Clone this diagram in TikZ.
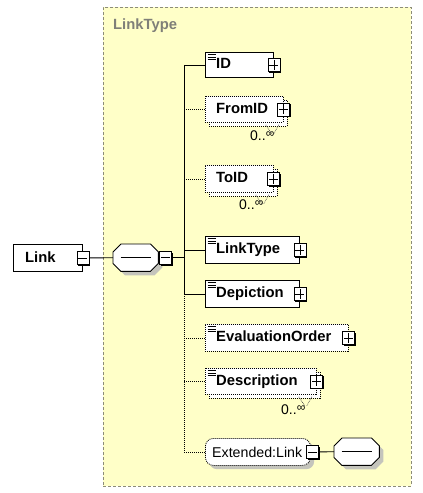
\documentclass[tikz,border=0pt]{standalone}
\usepackage{fontspec}
\setmainfont{Liberation Sans}
\definecolor{bgyellow}{HTML}{FFFFC8}
\definecolor{frameg}{HTML}{8C8C78}
\definecolor{titleg}{HTML}{7F7F78}
\definecolor{shadg}{HTML}{C4C4BC}
\newcommand{\bfnt}{\fontsize{14.8}{16}\selectfont\bfseries}
\newcommand{\rfnt}{\fontsize{14.2}{16}\selectfont}
% octagon outline round a named node: #1 node, #2 path options, #3 cut
\newcommand{\octo}[3]{%
  \path[#2] ([xshift=#3]#1.north west) -- ([xshift=-#3]#1.north east) -- ([yshift=-#3]#1.north east)
    -- ([yshift=#3]#1.south east) -- ([xshift=-#3]#1.south east) -- ([xshift=#3]#1.south west)
    -- ([yshift=#3]#1.south west) -- ([yshift=-#3]#1.north west) -- cycle;}
% plus / minus box with its shadow: #1 name, #2 place, #3 style
\newcommand{\pmb}[3]{%
  \node[pmshadow] (#1s) at ([shift={(1.5,1.5)}]#2) {};
  \node[#3] (#1) at (#2) {};}
\begin{document}
\begin{tikzpicture}[x=1pt,y=-1pt,
  boxbase/.style={fill=white, line width=0.9pt, anchor=north west, inner sep=0pt, minimum height=#1},
  elem/.style={boxbase=#1, draw},
  optelem/.style={boxbase=#1, draw, dash pattern=on 1pt off 1pt, line width=0.8pt},
  etext/.style={anchor=west, inner sep=0pt, text height=10.6pt, text depth=0pt, font=\bfnt},
  rtext/.style={anchor=west, inner sep=0pt, text height=10.2pt, text depth=0pt, font=\rfnt},
  pmshadow/.style={fill=black, minimum width=12pt, minimum height=13pt, inner sep=0pt},
  pmbox/.style={draw, fill=white, line width=0.8pt, minimum width=12pt, minimum height=13pt, inner sep=0pt},
  plusbox/.style={pmbox, path picture={
    \draw[line width=0.8pt] ([yshift=-1.5pt]path picture bounding box.north) -- ([yshift=1.5pt]path picture bounding box.south);
    \draw[line width=0.8pt] ([xshift=1.5pt]path picture bounding box.west) -- ([xshift=-1.5pt]path picture bounding box.east);}},
  minusbox/.style={pmbox, path picture={
    \draw[line width=0.8pt] ([xshift=1.5pt]path picture bounding box.west) -- ([xshift=-1.5pt]path picture bounding box.east);}},
  seqbox/.style={minimum width=45pt, minimum height=27pt, inner sep=0pt, anchor=north west},
  octline/.style={draw, fill=white, line width=0.9pt},
  octshadow/.style={fill=shadg, transform canvas={shift={(4pt,-4pt)}}},
  conn/.style={line width=0.9pt},
  optconn/.style={line width=0.8pt, dash pattern=on 1pt off 1pt},
  vdots/.style={line width=0.6pt, dash pattern=on 0.8pt off 0.8pt, black!70},
  mult/.style={anchor=north west, inner sep=0pt, font=\fontsize{14}{16}\selectfont},
  docicon/.style={line width=0.6pt}
]
\useasboundingbox (0,0) rectangle (423,493);

% complex type frame
\node[draw=frameg, fill=bgyellow, dash pattern=on 3pt off 2pt, line width=0.6pt, anchor=north west,
  minimum width=308pt, minimum height=479pt, inner sep=0pt] (frame) at (103,7) {};
\node[anchor=base west, inner sep=0pt, text=titleg, font=\bfnt] (ftitle) at (113,29) {LinkType};

% trunk reference
\coordinate (trunk) at (184,0);

% Link element
\node[elem=27pt, minimum width=69pt] (link) at (13,244) {};
\node[etext] (linkt) at ([shift={(12,-1)}]link.west) {Link};
\pmb{linkm}{link.east}{minusbox}

% sequence compositor
\node[seqbox] (seq) at (113,244) {};
\octo{seq}{octshadow}{8pt}
\octo{seq}{octline}{8pt}
\coordinate (seqa) at ([xshift=-15pt]seq.center);
\coordinate (seqb) at ([xshift=15pt]seq.center);
\draw[line width=0.8pt] (seqa) -- (seqb);
\coordinate (seqmc) at ([xshift=7pt]seq.east);
\pmb{seqm}{seqmc}{minusbox}
\draw[conn] (linkm.east) -- (seq.west);

% ID
\node[elem=25pt, minimum width=68pt] (id) at (205,52) {};
\node[etext] (idt) at ([shift={(11,-1.5)}]id.west) {ID};
\pmb{idp}{id.east}{plusbox}

% FromID (multiple)
\node[optelem=26pt, minimum width=78pt] (fromb) at (209,100) {};
\node[optelem=26pt, minimum width=78pt] (from) at (205,96) {};
\node[etext] (fromt) at ([shift={(11,-1.5)}]from.west) {FromID};
\pmb{fromp}{from.east}{plusbox}
\node[mult] (fromm) at (250,131) {0..\raisebox{3pt}{\fontsize{12}{12}\selectfont ∞}};

% ToID (multiple)
\node[optelem=27pt, minimum width=68pt] (tob) at (209,169) {};
\node[optelem=27pt, minimum width=68pt] (to) at (205,165) {};
\node[etext] (tot) at ([shift={(11,-1.5)}]to.west) {ToID};
\pmb{top}{to.east}{plusbox}
\node[mult] (tom) at (239,200) {0..\raisebox{3pt}{\fontsize{12}{12}\selectfont ∞}};

% LinkType
\node[elem=27pt, minimum width=94pt] (lt) at (205,236) {};
\node[etext] (ltt) at ([shift={(11,-1.5)}]lt.west) {LinkType};
\pmb{ltp}{lt.east}{plusbox}

% Depiction
\node[elem=27pt, minimum width=94pt] (dep) at (205,280) {};
\node[etext] (dept) at ([shift={(11,-1.5)}]dep.west) {Depiction};
\pmb{depp}{dep.east}{plusbox}

% EvaluationOrder
\node[optelem=27pt, minimum width=143pt] (eo) at (205,324) {};
\node[etext] (eot) at ([shift={(11,-1.5)}]eo.west) {EvaluationOrder};
\pmb{eop}{eo.east}{plusbox}

% Description (multiple)
\node[optelem=26pt, minimum width=111pt] (descb) at (209,372) {};
\node[optelem=26pt, minimum width=111pt] (desc) at (205,368) {};
\node[etext] (desct) at ([shift={(11,-1.5)}]desc.west) {Description};
\pmb{descp}{desc.east}{plusbox}
\node[mult] (descm) at (281,405) {0..\raisebox{3pt}{\fontsize{12}{12}\selectfont ∞}};

% Extended:Link group
\node[fill=shadg, rounded corners=8pt, anchor=north west,
  minimum width=105pt, minimum height=27pt, inner sep=0pt] (exts) at (209,442) {};
\node[fill=white, draw, dash pattern=on 1pt off 1pt, line width=0.8pt, rounded corners=8pt, anchor=north west,
  minimum width=105pt, minimum height=27pt, inner sep=0pt] (ext) at (205,438) {};
\node[rtext] (extt) at ([shift={(7,0)}]ext.west) {Extended:Link};
\coordinate (extmc) at ([xshift=2pt]ext.east);
\pmb{extm}{extmc}{minusbox}
\node[seqbox] (seq2) at (334,438) {};
\octo{seq2}{octshadow}{8pt}
\octo{seq2}{octline}{8pt}
\coordinate (seq2a) at ([xshift=-15pt]seq2.center);
\coordinate (seq2b) at ([xshift=15pt]seq2.center);
\draw[line width=0.8pt] (seq2a) -- (seq2b);
\draw[conn] (extm.east) -- (seq2.west);

% doc icons
\foreach \n in {id,lt,dep,eo,desc}{
  \draw[docicon] ([shift={(2.5,2.5)}]\n.north west) -- ++(8,0);
  \draw[docicon] ([shift={(2.5,5)}]\n.north west) -- ++(8,0);
  \draw[docicon] ([shift={(2.5,7.5)}]\n.north west) -- ++(8,0);
}

% multiplicity marks
\draw[vdots] ([shift={(-22,-2)}]fromb.south east) -- ([shift={(-16,7)}]fromb.south east);
\draw[vdots] ([shift={(-9,-2)}]fromb.south east) -- ([shift={(-14,7)}]fromb.south east);
\draw[vdots] ([shift={(-22,-2)}]tob.south east) -- ([shift={(-16,7)}]tob.south east);
\draw[vdots] ([shift={(-9,-2)}]tob.south east) -- ([shift={(-14,7)}]tob.south east);
\draw[vdots] ([shift={(-22,-2)}]descb.south east) -- ([shift={(-16,7)}]descb.south east);
\draw[vdots] ([shift={(-9,-2)}]descb.south east) -- ([shift={(-14,7)}]descb.south east);

% trunk and connectors
\draw[conn] (seqm.east) -- (seqm.east -| trunk);
\draw[conn] (id.west -| trunk) -- (dep.west -| trunk);
\draw[optconn] (dep.west -| trunk) -- (ext.west -| trunk);
\draw[conn] (id.west -| trunk) -- (id.west);
\draw[optconn] (from.west -| trunk) -- (from.west);
\draw[optconn] (to.west -| trunk) -- (to.west);
\draw[conn] (lt.west -| trunk) -- (lt.west);
\draw[conn] (dep.west -| trunk) -- (dep.west);
\draw[optconn] (eo.west -| trunk) -- (eo.west);
\draw[optconn] (desc.west -| trunk) -- (desc.west);
\draw[optconn] (ext.west -| trunk) -- (ext.west);
\end{tikzpicture}
\end{document}
